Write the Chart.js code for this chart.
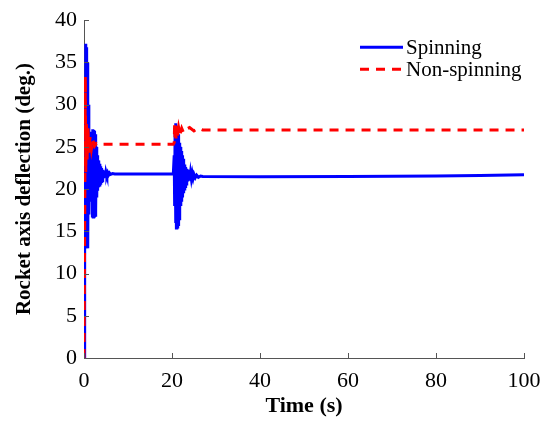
<!DOCTYPE html>
<html>
<head>
<meta charset="utf-8">
<script src="https://cdn.jsdelivr.net/npm/chart.js@4/dist/chart.umd.min.js"></script>
<style>
  html, body { margin: 0; padding: 0; background: #ffffff; }
  #wrap { width: 555px; height: 423px; position: relative; }
</style>
</head>
<body>
<div id="wrap"><canvas id="c"></canvas></div>
<script>
// ---- Data ----
const seriesNames = ["Spinning", "Non-spinning"];

const xTickValues = [0, 20, 40, 60, 80, 100];
const yTickValues = [0, 5, 10, 15, 20, 25, 30, 35, 40];

// Spinning: time (s)
const spinT = [
  0, 0.15, 0.30, 0.40, 0.50, 0.60, 0.70, 0.80, 0.90, 1.00,
  1.10, 1.20, 1.30, 1.40, 1.50, 1.60, 1.70, 1.80, 1.90, 2.00,
  2.10, 2.20, 2.30, 2.40, 2.50, 2.60, 2.70, 2.80, 2.90, 3.00,
  3.10, 3.20, 3.30, 3.40, 3.50, 3.60, 3.70, 3.80, 3.90, 4.00,
  4.10, 4.20, 4.30, 4.40, 4.50, 4.60, 4.70, 4.80, 4.90, 5.00,
  5.20, 5.40, 5.60, 5.80, 6.00, 6.50, 7.00, 10.0, 15.0, 20.3,
  20.4, 20.5, 20.6, 20.7, 20.8, 20.9, 21.0, 21.1, 21.2, 21.3,
  21.4, 21.5, 21.6, 21.7, 21.8, 21.9, 22.0, 22.1, 22.2, 22.3,
  22.4, 22.5, 22.6, 22.7, 22.8, 22.9, 23.0, 23.1, 23.2, 23.3,
  23.4, 23.5, 23.6, 23.7, 23.8, 23.9, 24.0, 24.2, 24.4, 24.6,
  24.8, 25.0, 25.3, 25.6, 26.0, 26.5, 27.0, 40.0, 60.0, 80.0,
  90.0, 100.0
];
// Spinning: deflection (deg.)
const spinDeg = [
  0, 20, 30, 37.2, 14, 36.8, 13.5, 35, 13, 30,
  17, 26.5, 18.5, 26.6, 18.5, 26.5, 18.8, 26.8, 16.8, 27.1,
  16.7, 27.0, 16.8, 26.9, 16.9, 26.5, 17.5, 25, 19, 24,
  19.8, 23.4, 20.2, 23.2, 20.5, 23, 20.7, 22.7, 20.9, 22.5,
  21.0, 22.3, 21.1, 22.2, 21.3, 22.1, 21.4, 22.0, 21.5, 22.0,
  21.6, 21.95, 21.7, 21.9, 21.75, 21.85, 21.8, 21.8, 21.8, 21.8,
  21.8, 24, 18, 27, 16, 27.8, 15.4, 27.5, 15.5, 27,
  15.8, 26.5, 16.5, 25.5, 17.5, 25, 18, 24.5, 18.5, 24,
  19, 23.6, 19.5, 23.2, 20, 22.9, 20.3, 22.6, 20.6, 22.4,
  20.8, 22.3, 20.9, 22.1, 21.0, 22.0, 21.1, 21.95, 21.2, 21.85,
  21.3, 21.75, 21.35, 21.65, 21.4, 21.55, 21.5, 21.45, 21.5, 21.55,
  21.6, 21.7
];

// Non-spinning: time (s)
const nonSpinT = [
  0, 0.1, 0.2, 0.3, 0.4, 0.55, 0.7, 0.9, 1.1, 1.4,
  1.7, 2.0, 2.4, 2.8, 3.2, 20.3, 20.5, 20.6, 20.7, 20.8,
  20.9, 21.0, 21.2, 21.5, 21.8, 22.2, 22.6, 23.2, 24.0, 25.0,
  26.0, 27.0, 100.0
];
// Non-spinning: deflection (deg.)
const nonSpinDeg = [
  0, 10, 20, 33.3, 22, 28, 23.5, 27.2, 24.3, 26.3,
  24.8, 25.8, 25.1, 25.4, 25.3, 25.3, 25.5, 27.8, 25.8, 27.5,
  26.0, 27.5, 26.2, 27.3, 26.5, 27.2, 26.7, 27.1, 27.3, 26.9,
  27.2, 27.0, 27.0
];

// ---- Build chart ----
const toPoints = (xs, ys) => xs.map((x, i) => ({ x: x, y: ys[i] }));

const SERIF = "'Liberation Serif', 'Times New Roman', serif";
const AXIS_COLOR = '#555555';

const inwardTicks = {
  id: 'inwardTicks',
  afterDatasetsDraw(chart) {
    const ctx = chart.ctx;
    const xs = chart.scales.x, ys = chart.scales.y;
    const a = chart.chartArea;
    ctx.save();
    ctx.strokeStyle = AXIS_COLOR;
    ctx.lineWidth = 1;
    ctx.beginPath();
    xTickValues.forEach(v => {
      const px = Math.round(xs.getPixelForValue(v)) + 0.5;
      ctx.moveTo(px, a.bottom);
      ctx.lineTo(px, a.bottom - 5);
    });
    yTickValues.forEach(v => {
      const py = Math.round(ys.getPixelForValue(v)) + 0.5;
      ctx.moveTo(a.left, py);
      ctx.lineTo(a.left + 5, py);
    });
    ctx.stroke();
    ctx.restore();
  }
};

const insideLegend = {
  id: 'insideLegend',
  afterDraw(chart) {
    const ctx = chart.ctx;
    const a = chart.chartArea;
    const x0 = a.right - 164, x1 = a.right - 121, tx = a.right - 118;
    const rows = [a.top + 27, a.top + 49];
    ctx.save();
    chart.data.datasets.forEach((ds, i) => {
      const y = rows[i];
      ctx.strokeStyle = ds.borderColor;
      ctx.lineWidth = ds.borderWidth;
      ctx.setLineDash(ds.borderDash || []);
      ctx.beginPath();
      ctx.moveTo(x0, y);
      ctx.lineTo(x1, y);
      ctx.stroke();
      ctx.setLineDash([]);
      ctx.fillStyle = '#000000';
      ctx.font = "21px " + SERIF;
      ctx.textBaseline = 'middle';
      ctx.textAlign = 'left';
      ctx.fillText(ds.label, tx, y + 1);
    });
    ctx.restore();
  }
};

new Chart(document.getElementById('c'), {
  type: 'line',
  data: {
    datasets: [
      {
        label: seriesNames[0],
        data: toPoints(spinT, spinDeg),
        borderColor: '#0000ff',
        borderWidth: 3,
        pointRadius: 0,
        tension: 0,
        fill: false,
        order: 1
      },
      {
        label: seriesNames[1],
        data: toPoints(nonSpinT, nonSpinDeg),
        borderColor: '#ff0000',
        borderWidth: 3,
        borderDash: [9, 7],
        pointRadius: 0,
        tension: 0,
        fill: false,
        order: 0
      }
    ]
  },
  options: {
    responsive: true,
    maintainAspectRatio: false,
    animation: false,
    events: [],
    layout: { padding: { top: 19, right: 31, left: 0, bottom: 0 } },
    plugins: {
      legend: { display: false },
      tooltip: { enabled: false }
    },
    scales: {
      x: {
        type: 'linear',
        min: 0, max: 100,
        afterBuildTicks(scale) { scale.ticks = xTickValues.map(v => ({ value: v })); },
        afterFit(scale) { scale.height = 65; },
        grid: { drawOnChartArea: false, drawTicks: false },
        border: { display: true, color: AXIS_COLOR, width: 1 },
        ticks: {
          padding: 10,
          color: '#000000',
          maxRotation: 0,
          font: { family: SERIF, size: 22 }
        },
        title: {
          display: true,
          text: 'Time (s)',
          color: '#000000',
          font: { family: SERIF, size: 22, weight: 'bold' },
          padding: { top: 0, bottom: 3 }
        }
      },
      y: {
        type: 'linear',
        min: 0, max: 40,
        afterBuildTicks(scale) { scale.ticks = yTickValues.map(v => ({ value: v })); },
        afterFit(scale) { scale.width = 84; },
        grid: { drawOnChartArea: false, drawTicks: false },
        border: { display: true, color: AXIS_COLOR, width: 1 },
        ticks: {
          padding: 7,
          color: '#000000',
          font: { family: SERIF, size: 22 }
        },
        title: {
          display: true,
          text: 'Rocket axis deflection (deg.)',
          color: '#000000',
          font: { family: SERIF, size: 21, weight: 'bold' },
          padding: { top: 12, bottom: 0 }
        }
      }
    }
  },
  plugins: [inwardTicks, insideLegend]
});
</script>
</body>
</html>
